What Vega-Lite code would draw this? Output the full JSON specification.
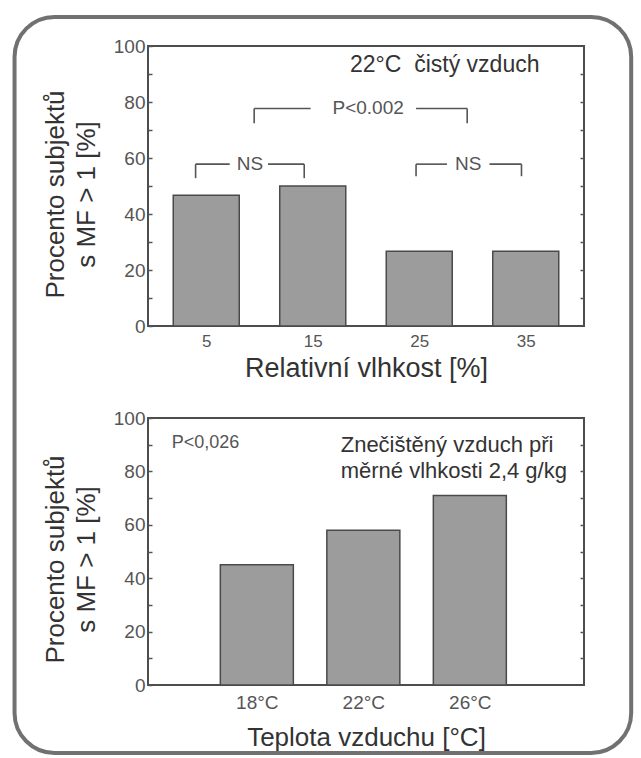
{
  "$schema": "https://vega.github.io/schema/vega-lite/v6.json",
  "background": "white",
  "padding": {"left": 11, "top": 13, "right": 7, "bottom": 5},
  "bounds": "flush",
  "spacing": 92,
  "config": {
    "font": "Liberation Sans",
    "view": {"stroke": "#4d4d4d", "strokeWidth": 2},
    "axis": {
      "grid": false,
      "domain": false,
      "labelFont": "Liberation Sans",
      "labelColor": "#555555",
      "labelFontSize": 19,
      "titleFont": "Liberation Sans",
      "titleColor": "#333333",
      "titleFontSize": 26,
      "titleFontWeight": "normal",
      "tickColor": "#555555",
      "tickWidth": 1.5
    }
  },
  "vconcat": [
    {
      "width": 436,
      "height": 280,
      "layer": [
        {
          "data": {"values": [{}]},
          "mark": {"type": "rect", "filled": false, "stroke": "#717171", "strokeWidth": 4, "cornerRadius": 40},
          "encoding": {
            "x": {"datum": -13.0, "type": "quantitative", "scale": {"domain": [0, 40]}, "axis": null},
            "x2": {"datum": 44.9},
            "y": {"datum": 110.4, "type": "quantitative", "scale": {"domain": [0, 100]}, "axis": null},
            "y2": {"datum": -152.5}
          }
        },
        {
          "data": {"values": [
            {"vlhkost": 5, "procento": 46.7},
            {"vlhkost": 15, "procento": 50},
            {"vlhkost": 25, "procento": 26.7},
            {"vlhkost": 35, "procento": 26.7}
          ]},
          "mark": {"type": "bar", "orient": "vertical", "width": 66, "fill": "#9c9c9c", "stroke": "#4a4a4a", "strokeWidth": 1.5},
          "encoding": {
            "x": {
              "field": "vlhkost", "type": "quantitative",
              "scale": {"domain": [0, 40]},
              "axis": {"orient": "bottom", "values": [5, 15, 25, 35], "ticks": false, "labelPadding": 7, "labelFontSize": 17, "title": "Relativní vlhkost [%]", "titleFontSize": 27, "titlePadding": 6}
            },
            "y": {
              "field": "procento", "type": "quantitative",
              "scale": {"domain": [0, 100]},
              "axis": {
                "orient": "left",
                "values": [0, 10, 20, 30, 40, 50, 60, 70, 80, 90, 100],
                "labelExpr": "datum.value % 20 === 0 ? datum.label : ''",
                "tickSize": -4,
                "labelPadding": 7,
                "title": ["Procento subjektů", "s MF > 1 [%]"],
                "titleLineHeight": 31,
                "titlePadding": 14,
                "titleY": 148
              }
            }
          }
        },
        {
          "data": {"values": [
            {"x": 9.5, "x2": 9.5, "y": 72.4, "y2": 77.7},
            {"x": 9.5, "x2": 14.8, "y": 77.7, "y2": 77.7},
            {"x": 24.7, "x2": 29.5, "y": 77.7, "y2": 77.7},
            {"x": 29.5, "x2": 29.5, "y": 77.7, "y2": 72.4},
            {"x": 4.0, "x2": 4.0, "y": 52.8, "y2": 57.8},
            {"x": 4.0, "x2": 7.2, "y": 57.8, "y2": 57.8},
            {"x": 10.8, "x2": 14.2, "y": 57.8, "y2": 57.8},
            {"x": 14.2, "x2": 14.2, "y": 57.8, "y2": 52.8},
            {"x": 24.7, "x2": 24.7, "y": 53.5, "y2": 57.8},
            {"x": 24.7, "x2": 27.6, "y": 57.8, "y2": 57.8},
            {"x": 31.6, "x2": 34.6, "y": 57.8, "y2": 57.8},
            {"x": 34.6, "x2": 34.6, "y": 57.8, "y2": 53.5}
          ]},
          "mark": {"type": "rule", "stroke": "#555555", "strokeWidth": 1.6},
          "encoding": {
            "x": {"field": "x", "type": "quantitative", "scale": {"domain": [0, 40]}, "axis": null},
            "x2": {"field": "x2"},
            "y": {
              "field": "y", "type": "quantitative", "scale": {"domain": [0, 100]},
              "axis": {"orient": "right", "values": [10, 20, 30, 40, 50, 60, 70, 80, 90], "labels": false, "tickSize": -4, "title": null}
            },
            "y2": {"field": "y2"}
          }
        },
        {
          "data": {"values": [
            {"x": 20.2, "y": 77.7, "popis": "P<0.002"},
            {"x": 9.1, "y": 57.8, "popis": "NS"},
            {"x": 29.6, "y": 57.8, "popis": "NS"}
          ]},
          "mark": {"type": "text", "fontSize": 19, "color": "#555555", "align": "center", "baseline": "middle"},
          "encoding": {
            "x": {"field": "x", "type": "quantitative", "scale": {"domain": [0, 40]}, "axis": null},
            "y": {"field": "y", "type": "quantitative", "scale": {"domain": [0, 100]}, "axis": null},
            "text": {"field": "popis"}
          }
        },
        {
          "data": {"values": [{"x": 18.5, "y": 93.2, "popis": "22°C\u00a0\u00a0čistý vzduch"}]},
          "mark": {"type": "text", "fontSize": 23, "color": "#333333", "align": "left", "baseline": "middle"},
          "encoding": {
            "x": {"field": "x", "type": "quantitative", "scale": {"domain": [0, 40]}, "axis": null},
            "y": {"field": "y", "type": "quantitative", "scale": {"domain": [0, 100]}, "axis": null},
            "text": {"field": "popis"}
          }
        }
      ],
      "resolve": {"axis": {"x": "independent", "y": "independent"}}
    },
    {
      "width": 436,
      "height": 267,
      "layer": [
        {
          "data": {"values": [
            {"teplota": 18, "procento": 45},
            {"teplota": 22, "procento": 58},
            {"teplota": 26, "procento": 71}
          ]},
          "mark": {"type": "bar", "orient": "vertical", "width": 73, "fill": "#9c9c9c", "stroke": "#4a4a4a", "strokeWidth": 1.5},
          "encoding": {
            "x": {
              "field": "teplota", "type": "quantitative",
              "scale": {"domain": [14.1, 30.1]},
              "axis": {"orient": "bottom", "values": [18, 22, 26], "labelExpr": "datum.value + '°C'", "ticks": false, "labelPadding": 8, "labelFontSize": 19, "title": "Teplota vzduchu [°C]", "titlePadding": 12}
            },
            "y": {
              "field": "procento", "type": "quantitative",
              "scale": {"domain": [0, 100]},
              "axis": {
                "orient": "left",
                "values": [0, 10, 20, 30, 40, 50, 60, 70, 80, 90, 100],
                "labelExpr": "datum.value % 20 === 0 ? datum.label : ''",
                "tickSize": -4,
                "labelPadding": 7,
                "title": ["Procento subjektů", "s MF > 1 [%]"],
                "titleLineHeight": 31,
                "titlePadding": 14,
                "titleY": 141
              }
            }
          }
        },
        {
          "data": {"values": [
            {"x": 14.8, "y": 90.6, "popis": "P<0,026", "velikost": "maly"},
            {"x": 21.15, "y": 89.9, "popis": "Znečištěný vzduch při", "velikost": "velky"},
            {"x": 21.15, "y": 80.1, "popis": "měrné vlhkosti 2,4 g/kg", "velikost": "velky"}
          ]},
          "mark": {"type": "text", "align": "left", "baseline": "middle"},
          "encoding": {
            "x": {"field": "x", "type": "quantitative", "scale": {"domain": [14.1, 30.1]}, "axis": null},
            "y": {
              "field": "y", "type": "quantitative", "scale": {"domain": [0, 100]},
              "axis": {"orient": "right", "values": [10, 20, 30, 40, 50, 60, 70, 80, 90], "labels": false, "tickSize": -4, "title": null}
            },
            "text": {"field": "popis"},
            "size": {"field": "velikost", "type": "nominal", "scale": {"domain": ["maly", "velky"], "range": [18, 22]}, "legend": null},
            "color": {"field": "velikost", "type": "nominal", "scale": {"domain": ["maly", "velky"], "range": ["#555555", "#333333"]}, "legend": null}
          }
        }
      ],
      "resolve": {"axis": {"x": "independent", "y": "independent"}}
    }
  ]
}
